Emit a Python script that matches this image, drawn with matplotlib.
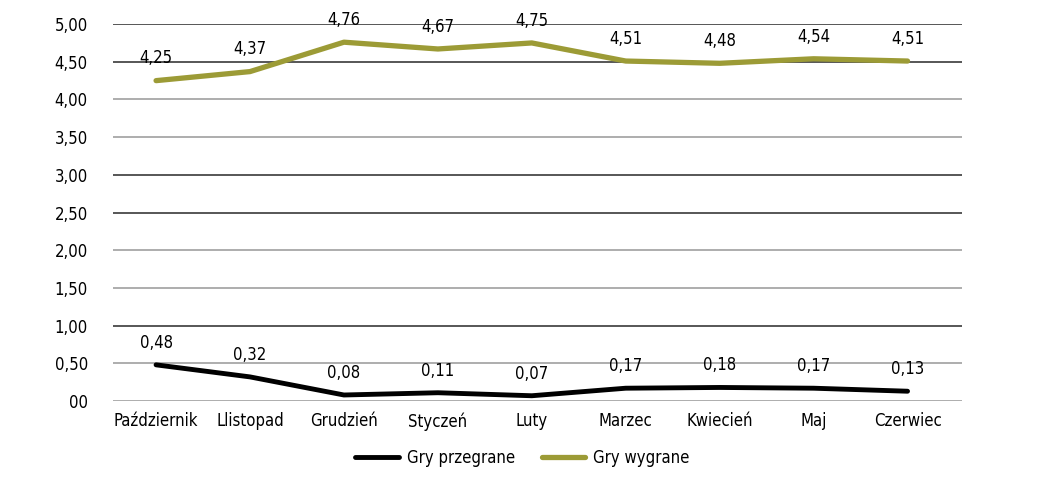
import matplotlib.pyplot as plt

months = ["Październik", "Llistopad", "Grudzień", "Styczeń", "Luty",
          "Marzec", "Kwiecień", "Maj", "Czerwiec"]
lost = [0.48, 0.32, 0.08, 0.11, 0.07, 0.17, 0.18, 0.17, 0.13]
won = [4.25, 4.37, 4.76, 4.67, 4.75, 4.51, 4.48, 4.54, 4.51]
yticks = [0, 0.5, 1, 1.5, 2, 2.5, 3, 3.5, 4, 4.5, 5]
ytick_labels = ["00", "0,50", "1,00", "1,50", "2,00", "2,50",
                "3,00", "3,50", "4,00", "4,50", "5,00"]

plt.rcParams["font.family"] = ["DejaVu Sans"]
plt.rcParams["font.stretch"] = "condensed"
plt.rcParams["font.size"] = 12

olive = "#9c9b36"
fig = plt.figure(figsize=(10.45, 4.82), dpi=100)
ax = fig.add_axes([0.108, 0.168, 0.8126, 0.782])

x = list(range(len(months)))
ax.plot(x, lost, color="black", lw=3.5, solid_capstyle="round", label="Gry przegrane")
ax.plot(x, won, color=olive, lw=3.8, solid_capstyle="round", label="Gry wygrane")

for xi, v in zip(x, lost):
    ax.annotate(f"{v:.2f}".replace(".", ","), (xi, v), xytext=(0, 16),
                textcoords="offset points", ha="center", va="center")
for xi, v in zip(x, won):
    ax.annotate(f"{v:.2f}".replace(".", ","), (xi, v), xytext=(0, 16),
                textcoords="offset points", ha="center", va="center")

ax.set_xlim(-0.46, 8.58)
ax.set_ylim(0, 5)
ax.set_yticks(yticks)
ax.set_yticklabels(ytick_labels)
ax.set_xticks(x)
ax.set_xticklabels(months)
ax.tick_params(length=0)
ax.tick_params(axis="y", pad=18)
ax.tick_params(axis="x", pad=8)
for s in ax.spines.values():
    s.set_visible(False)

# grid lines in the original alternate between dark and light grey
dark = {5, 4.5, 3, 2.5, 1}
ax.yaxis.grid(True, lw=1.2)
for t, gl in zip(yticks, ax.yaxis.get_gridlines()):
    gl.set_color("#3a3a3a" if t in dark else "#a0a0a0")
ax.set_axisbelow(True)
for ln in ax.lines[:2]:
    ln.set_zorder(3)

fig.legend(loc="lower center", bbox_to_anchor=(0.5, 0.0), ncol=2, frameon=False,
           handlelength=2.6, handletextpad=0.5, columnspacing=1.6, fontsize=12)

fig.savefig("out.png", dpi=100)
